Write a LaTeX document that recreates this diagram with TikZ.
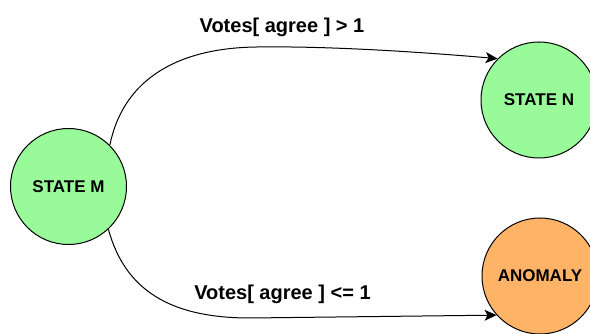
\documentclass[tikz,border=0pt]{standalone}
\usepackage{fontspec}
\setmainfont{Liberation Sans}
\usetikzlibrary{arrows.meta}
\definecolor{stategreen}{RGB}{153,250,153}
\definecolor{alertorange}{RGB}{255,179,102}
\begin{document}
\begin{tikzpicture}[x=1pt,y=1pt,
  statenode/.style={circle,draw=black,line width=1pt,minimum size=116pt,inner sep=0pt,
    font=\fontsize{17}{19}\selectfont\bfseries},
  trans/.style={line width=1pt,-{Stealth[length=12pt,width=11pt,inset=3pt]}},
  translabel/.style={anchor=base,inner sep=0pt,font=\fontsize{20}{22}\selectfont\bfseries}]
  \clip (0,0) rectangle (590,334);
  \fill[white] (0,0) rectangle (590,334);

  % states
  \node[statenode,fill=stategreen] (M) at (68.5,147.5) {STATE M};
  \node[statenode,fill=stategreen] (N) at (539,234) {STATE N};
  \node[statenode,fill=alertorange] (A) at (540,58) {ANOMALY};

  % transitions
  \draw[trans] (M.45) .. controls (122,249) and (170,286) .. (257,287)
    .. controls (330,288) and (420,282) .. (N.135);
  \draw[trans] (M.-47) .. controls (125,44) and (170,16) .. (250,16) -- (A.222);

  % transition conditions
  \node[translabel] (gt) at (282,301) {Votes[ agree ] > 1};
  \node[translabel] (le) at (282.5,34) {Votes[ agree ] <= 1};
\end{tikzpicture}
\end{document}
